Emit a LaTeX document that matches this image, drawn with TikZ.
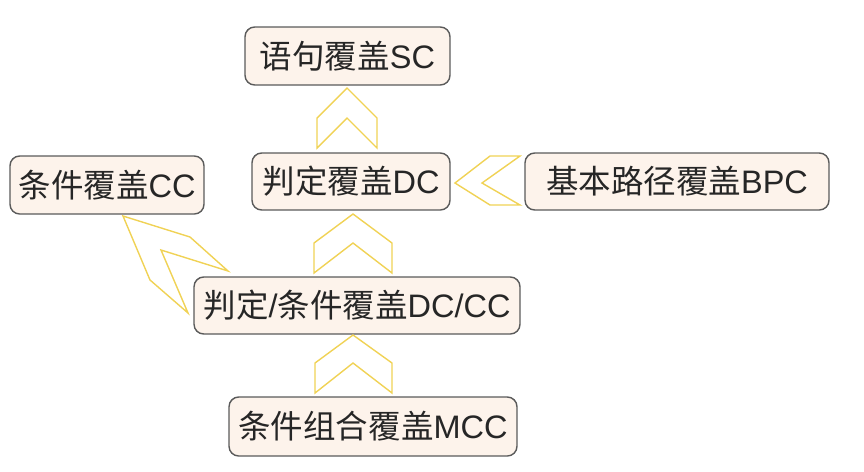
\documentclass[tikz,border=0pt]{standalone}
\usepackage{fontspec}
\setmainfont{Liberation Sans}
\newfontfamily\cjk{Noto Sans CJK SC}
\definecolor{boxfill}{RGB}{253,243,235}
\definecolor{boxline}{RGB}{90,90,90}
\definecolor{chevline}{RGB}{240,210,85}
\begin{document}
\begin{tikzpicture}[x=0.02cm,y=-0.02cm,
  level/.style={draw=boxline,fill=boxfill,line width=0.8pt,rounded corners=5.5pt,
    inner sep=0pt,text=black!85,font=\fontsize{18.5}{21}\selectfont},
  chev/.style={draw=chevline,line width=0.8pt,line join=miter}]
\useasboundingbox (0,0) rectangle (864,471);
\node[level,minimum width=4.1cm,minimum height=1.16cm] (sc) at (347.5,56) {{\cjk 语句覆盖}SC};
\node[level,minimum width=3.96cm,minimum height=1.14cm] (dc) at (351,181.5) {{\cjk 判定覆盖}DC};
\node[level,minimum width=6.08cm,minimum height=1.14cm] (bpc) at (677,181.5) {{\cjk 基本路径覆盖}BPC};
\node[level,minimum width=3.88cm,minimum height=1.16cm] (cc) at (107,185) {{\cjk 条件覆盖}CC};
\node[level,minimum width=6.52cm,minimum height=1.14cm] (dcc) at (357,305.5) {{\cjk 判定}/{\cjk 条件覆盖}DC/CC};
\node[level,minimum width=5.76cm,minimum height=1.18cm] (mcc) at (373,426.5) {{\cjk 条件组合覆盖}MCC};
\draw[chev] (347,88) -- (377,118) -- (377,148) -- (347,118) -- (317,148) -- (317,118) -- cycle;
\draw[chev] (353,214) -- (392,243) -- (392,273) -- (353,243) -- (314,273) -- (314,243) -- cycle;
\draw[chev] (353,335) -- (392,363) -- (392,393) -- (353,363) -- (315,393) -- (315,363) -- cycle;
\draw[chev] (455,183) -- (490,156) -- (520,156) -- (482,183) -- (520,205) -- (490,205) -- cycle;
\draw[chev] (123,216) -- (190,237) -- (228,271) -- (161,250) -- (188,313) -- (150,280) -- cycle;
\end{tikzpicture}
\end{document}
